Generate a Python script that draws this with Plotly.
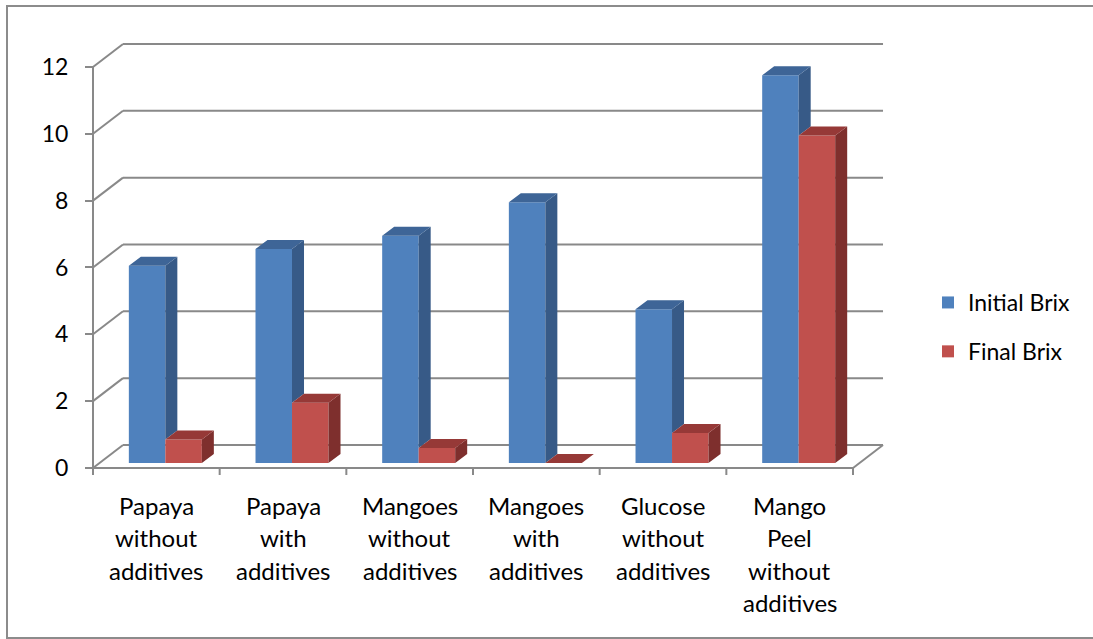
import plotly.graph_objects as go

# ---- data -------------------------------------------------------------
categories = [
    "Papaya without additives",
    "Papaya with additives",
    "Mangoes without additives",
    "Mangoes with additives",
    "Glucose without additives",
    "Mango Peel without additives",
]
category_lines = [
    ["Papaya", "without", "additives"],
    ["Papaya", "with", "additives"],
    ["Mangoes", "without", "additives"],
    ["Mangoes", "with", "additives"],
    ["Glucose", "without", "additives"],
    ["Mango", "Peel", "without", "additives"],
]
initial_brix = [5.9, 6.4, 6.8, 7.8, 4.6, 11.6]
final_brix = [0.7, 1.8, 0.45, 0.0, 0.9, 9.8]
y_ticks = [0, 2, 4, 6, 8, 10, 12]

# ---- page geometry (pixels) -------------------------------------------
W, H = 1093, 639
AXIS_PX = 93          # left edge of the floor / value axis
ZERO_PX = 468         # baseline of the front floor edge
CAT_PX = 126.67       # width of one category slot
UNIT_PX = 33.42       # pixels per Brix unit

def dx(px):
    return px / CAT_PX

def dy(px):
    return px / UNIT_PX

x_lo = -0.5 - dx(AXIS_PX)
x_hi = -0.5 + dx(W - AXIS_PX)
y_lo = -dy(H - ZERO_PX)
y_hi = dy(ZERO_PX)

# depth of the walls and of the columns
WALL_X, WALL_Y = dx(30), dy(23)
BAR_SHIFT_X, BAR_BASE = dx(9), dy(5)
BAR_W = dx(36.5)
DEPTH_X, DEPTH_Y = dx(12), dy(9)

FLOOR_L, FLOOR_R = -0.5, len(categories) - 0.5
GRID = "#898989"
FONT = "Lato"

front_colors = {"Initial Brix": "#4f81bd", "Final Brix": "#c0504d"}
side_colors = {"Initial Brix": "#375a87", "Final Brix": "#7e2f2d"}
top_colors = {"Initial Brix": "#3e6597", "Final Brix": "#963937"}

fig = go.Figure()

# front faces of the columns
series = [("Initial Brix", initial_brix, -BAR_W), ("Final Brix", final_brix, 0.0)]
for name, vals, off in series:
    fig.add_trace(go.Bar(
        name=name,
        x=[i + BAR_SHIFT_X for i in range(len(categories))],
        y=vals,
        base=BAR_BASE,
        width=BAR_W,
        offset=off,
        marker=dict(color=front_colors[name], line=dict(width=0)),
        legendgroup=name,
        hoverinfo="skip",
    ))

# side and top faces
def poly_trace(xs, ys, color):
    return go.Scatter(x=xs, y=ys, mode="lines", fill="toself", fillcolor=color,
                      line=dict(width=0, color=color), showlegend=False,
                      hoverinfo="skip")

for name, vals, off in series:
    sx, sy, tx, ty = [], [], [], []
    for i, v in enumerate(vals):
        left = i + BAR_SHIFT_X + off
        right = left + BAR_W
        top = BAR_BASE + v
        low = BAR_BASE
        if name == "Initial Brix":
            # the neighbouring Final Brix column hides the lower part
            low = min(BAR_BASE + final_brix[i], top)
        if top > low:
            sx += [right, right + DEPTH_X, right + DEPTH_X, right, right, None]
            sy += [low, low + DEPTH_Y, top + DEPTH_Y, top, low, None]
        tx += [left, right, right + DEPTH_X, left + DEPTH_X, left, None]
        ty += [top, top, top + DEPTH_Y, top + DEPTH_Y, top, None]
    fig.add_trace(poly_trace(sx, sy, side_colors[name]))
    fig.add_trace(poly_trace(tx, ty, top_colors[name]))

# walls, floor and gridlines
shapes = []
def seg(x0, y0, x1, y1, layer="below"):
    shapes.append(dict(type="line", xref="x", yref="y", x0=x0, y0=y0, x1=x1, y1=y1,
                       line=dict(color=GRID, width=2), layer=layer))

for v in y_ticks:
    seg(FLOOR_L, v, FLOOR_L + WALL_X, v + WALL_Y)
    seg(FLOOR_L + WALL_X, v + WALL_Y, FLOOR_R + WALL_X, v + WALL_Y)
seg(FLOOR_L, 0, FLOOR_L, max(y_ticks))
seg(FLOOR_L, 0, FLOOR_R, 0)
seg(FLOOR_R, 0, FLOOR_R + WALL_X, WALL_Y)
for k in range(len(categories) + 1):
    seg(FLOOR_L + k, 0, FLOOR_L + k, -dy(7))

# outer chart border
shapes.append(dict(type="rect", xref="paper", yref="paper",
                   x0=7 / W, x1=1.01, y0=1 - 638 / H, y1=1 - 6 / H,
                   line=dict(color="#8c8c8c", width=2), layer="below"))

# category labels under the floor
LINE_PX = [505, 537, 570, 602]
annotations = []
for i, lines in enumerate(category_lines):
    for j, txt in enumerate(lines):
        annotations.append(dict(x=i, y=1 - LINE_PX[j] / H, xref="x", yref="paper",
                                text=txt, showarrow=False, xanchor="center",
                                yanchor="middle",
                                font=dict(family=FONT, size=24, color="black")))

fig.update_layout(
    width=W, height=H,
    margin=dict(l=0, r=0, t=0, b=0),
    paper_bgcolor="white", plot_bgcolor="white",
    barmode="overlay",
    shapes=shapes,
    annotations=annotations,
    xaxis=dict(range=[x_lo, x_hi], visible=False, fixedrange=True),
    yaxis=dict(range=[y_lo, y_hi], anchor="free", position=AXIS_PX / W,
               tickvals=y_ticks, ticks="outside", ticklen=8, tickwidth=2,
               tickcolor=GRID, showgrid=False, zeroline=False, showline=False,
               ticklabelstandoff=12,
               tickfont=dict(family=FONT, size=23, color="black")),
    legend=dict(x=928 / W, y=1 - 281 / H, xanchor="left", yanchor="top",
                tracegroupgap=16, bgcolor="rgba(0,0,0,0)",
                font=dict(family=FONT, size=23, color="black")),
    showlegend=True,
)

fig.write_html("out.html")
